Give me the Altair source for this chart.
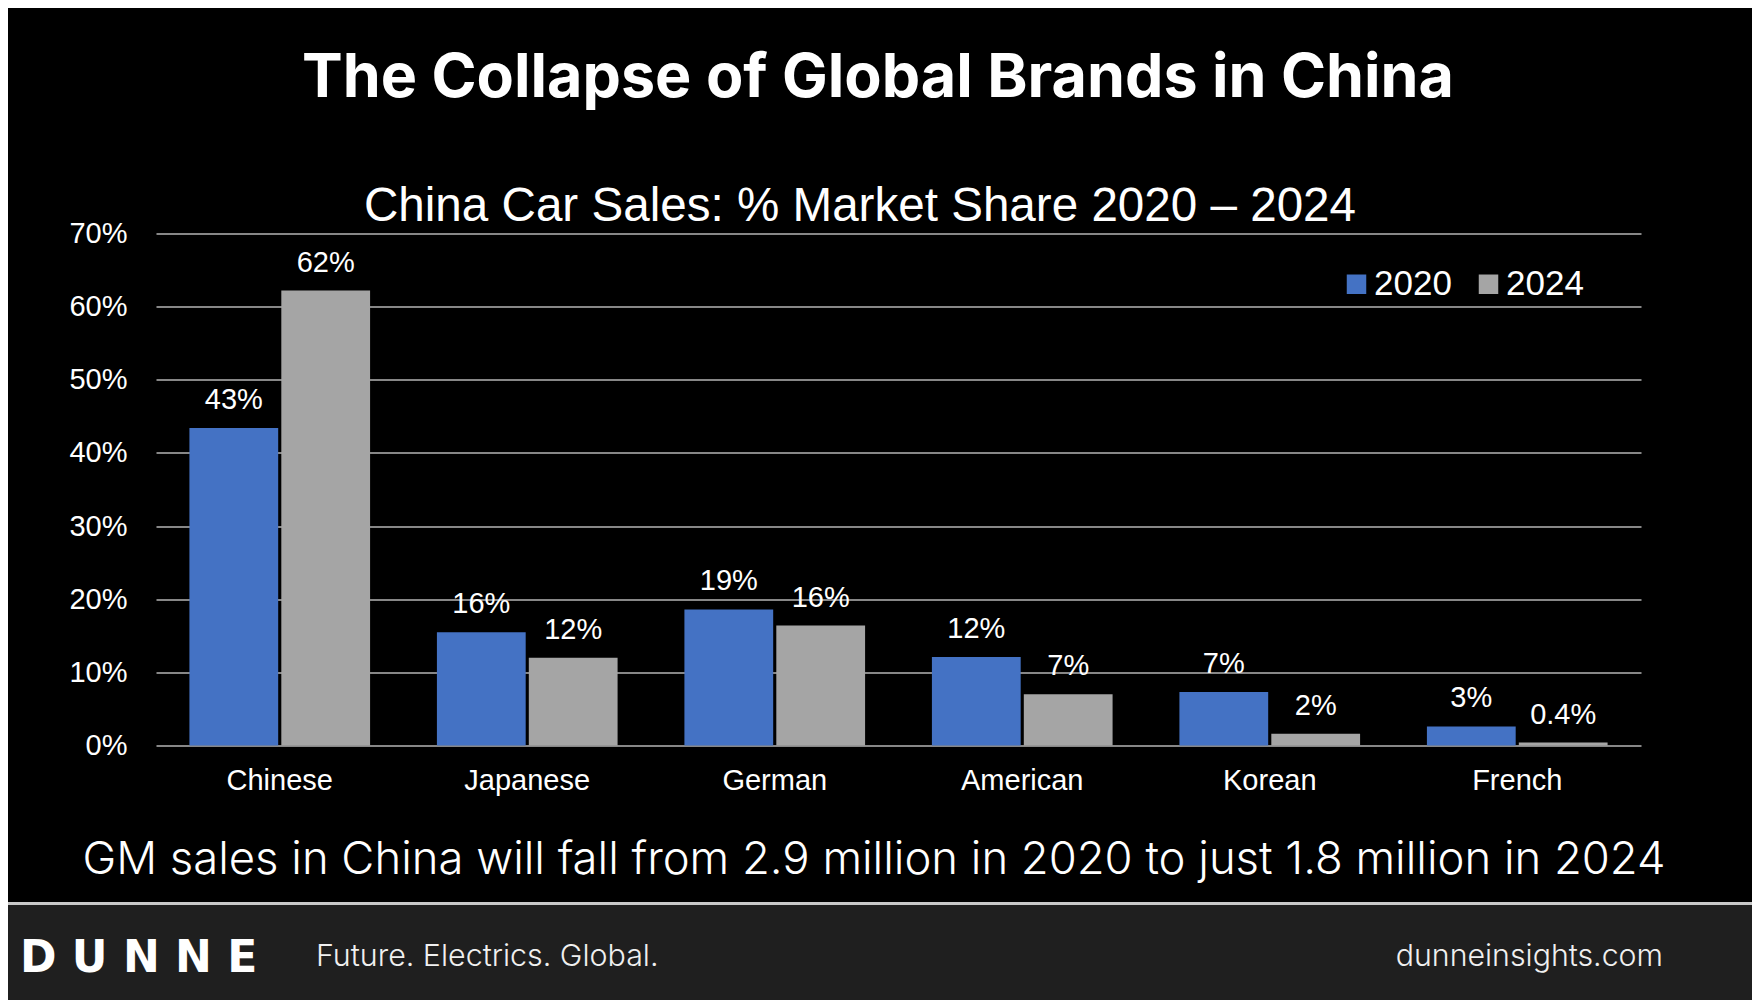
import altair as alt
import pandas as pd

# ---- data ----
categories = ["Chinese", "Japanese", "German", "American", "Korean", "French"]
share_2020 = [43.4, 15.5, 18.6, 12.1, 7.3, 2.6]
share_2024 = [62.2, 12.0, 16.4, 7.0, 1.6, 0.4]
labels_2020 = ["43%", "16%", "19%", "12%", "7%", "3%"]
labels_2024 = ["62%", "12%", "16%", "7%", "2%", "0.4%"]
years = ["2020", "2024"]
colors = ["#4472C4", "#A5A5A5"]
y_ticks = [0, 10, 20, 30, 40, 50, 60, 70]

title_text = "The Collapse of Global Brands in China"
subtitle_text = "China Car Sales: % Market Share 2020 \u2013 2024"
note_text = "GM sales in China will fall from 2.9 million in 2020 to just 1.8 million in 2024"
logo_text = "D U N N E"
tagline_text = "Future. Electrics. Global."
site_text = "dunneinsights.com"

rows = []
for c, v, l in zip(categories, share_2020, labels_2020):
    rows.append({"category": c, "year": "2020", "share": v, "label": l})
for c, v, l in zip(categories, share_2024, labels_2024):
    rows.append({"category": c, "year": "2024", "share": v, "label": l})
df = pd.DataFrame(rows)

# ---- layout (page pixel -> plot coordinates) ----
PAD_L, PAD_T = 148, 225.5
OX, OY = 8 + PAD_L, 8 + PAD_T
W, H = 1485, 512
PAD_R = 1744 - PAD_L - W
PAD_B = 992 - PAD_T - H


def px(x):
    return x - OX


def py(y):
    return y - OY


x_enc = alt.X(
    "category:N",
    sort=categories,
    scale=alt.Scale(paddingInner=0.27, paddingOuter=0.135),
    axis=alt.Axis(
        title=None, labelAngle=0, labelFontSize=29, labelColor="white",
        labelFont="Liberation Sans", labelPadding=21, domain=False,
        ticks=False, grid=False,
    ),
)
xoff_enc = alt.XOffset("year:N", sort=years, scale=alt.Scale(paddingInner=0.034))
y_enc = alt.Y(
    "share:Q",
    scale=alt.Scale(domain=[0, 70], nice=False),
    axis=alt.Axis(
        title=None, values=y_ticks, labelExpr="datum.value + '%'",
        labelFontSize=29, labelColor="white", labelFont="Liberation Sans",
        labelPadding=29, ticks=False, domain=False, grid=True,
        gridColor="#b4b4b4", gridWidth=1.6,
    ),
)

base = alt.Chart(df)

bars = base.mark_bar().encode(
    x=x_enc,
    xOffset=xoff_enc,
    y=y_enc,
    color=alt.Color(
        "year:N",
        scale=alt.Scale(domain=years, range=colors),
        legend=alt.Legend(
            title=None, orient="none", legendX=1183, legendY=33,
            direction="horizontal", symbolType="square", symbolSize=380,
            symbolStrokeWidth=0, symbolOpacity=1, labelFontSize=35,
            labelFont="Liberation Sans", labelColor="white", labelOffset=0,
            columnPadding=19, padding=0,
        ),
    ),
)

bar_labels = base.mark_text(
    baseline="alphabetic", dy=-19, fontSize=29, color="white",
    font="Liberation Sans",
).encode(x=x_enc, xOffset=xoff_enc, y=y_enc, text="label:N")


def text_layer(t, x, y, size, font, align="center", weight="normal", color="white"):
    return alt.Chart(pd.DataFrame({"t": [t]})).mark_text(
        align=align, baseline="alphabetic", fontSize=size, font=font,
        fontWeight=weight, color=color,
    ).encode(x=alt.value(px(x)), y=alt.value(py(y)), text="t:N")


footer = alt.Chart(pd.DataFrame({"a": [0]})).mark_rect(color="#1f1f1f").encode(
    x=alt.value(px(0)), x2=alt.value(px(1760)),
    y=alt.value(py(904)), y2=alt.value(py(1010)),
)
separator = alt.Chart(pd.DataFrame({"a": [0]})).mark_rule(
    color="#c8c8c8", strokeWidth=3
).encode(x=alt.value(px(0)), x2=alt.value(px(1760)), y=alt.value(py(903.5)))

chart = alt.layer(
    footer,
    separator,
    bars,
    bar_labels,
    text_layer(title_text, 878, 97, 61, "Inter", weight="bold"),
    text_layer(subtitle_text, 860, 220.5, 47.6, "Liberation Sans"),
    text_layer(note_text, 874, 874, 45.4, "Inter", weight=300),
    text_layer(logo_text, 20, 972, 44, "DejaVu Sans", align="left", weight="bold"),
    text_layer(tagline_text, 316, 966, 30.4, "Inter", align="left", weight=300, color="#f0f0f0"),
    text_layer(site_text, 1663, 966, 30.3, "Inter", align="right", weight=300, color="#f0f0f0"),
).properties(
    width=W,
    height=H,
    autosize=alt.AutoSizeParams(type="none"),
    padding={"left": PAD_L, "top": PAD_T, "right": PAD_R, "bottom": PAD_B},
    background="black",
).configure_view(stroke=None)

chart.save("out.html", embed_options={"renderer": "svg", "actions": False})
